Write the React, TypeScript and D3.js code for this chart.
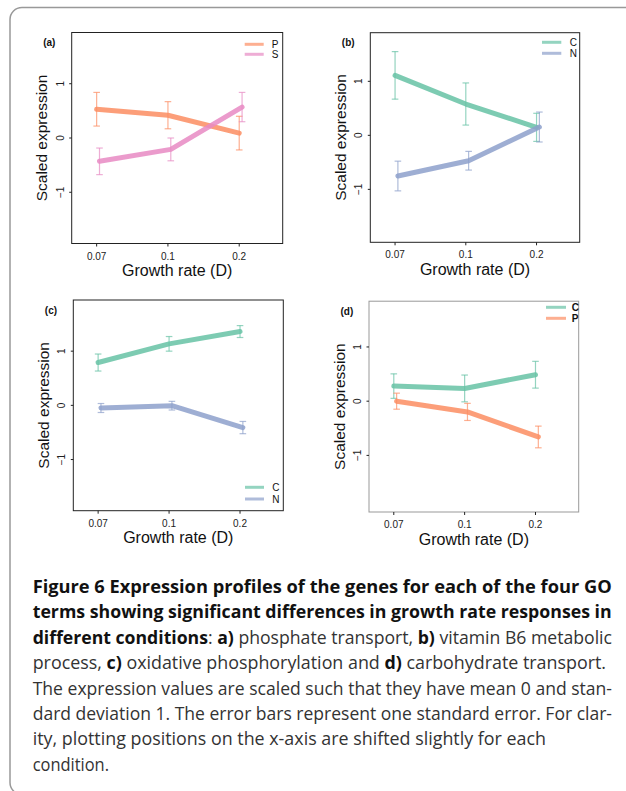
import React from "react";
import * as d3 from "d3";

// ---------- data ----------
const xLabels = ["0.07", "0.1", "0.2"];
const xIndex = [1, 2, 3];
const yTicks = [-1, 0, 1];
const panelLabels = ["(a)", "(b)", "(c)", "(d)"];

// panel (a): P and S
const aP = [0.53, 0.42, 0.09];
const aPse = [0.31, 0.25, 0.31];
const aS = [-0.43, -0.21, 0.57];
const aSse = [0.245, 0.21, 0.27];
// panel (b): C and N
const bC = [1.11, 0.58, 0.148];
const bCse = [0.44, 0.39, 0.26];
const bN = [-0.753, -0.47, 0.154];
const bNse = [0.275, 0.173, 0.277];
// panel (c): C and N
const cC = [0.79, 1.135, 1.362];
const cCse = [0.157, 0.135, 0.11];
const cN = [-0.049, -0.006, -0.41];
const cNse = [0.083, 0.08, 0.113];
// panel (d): C and P
const dC = [0.278, 0.235, 0.488];
const dCse = [0.226, 0.247, 0.247];
const dP = [0.0, -0.198, -0.66];
const dPse = [0.148, 0.158, 0.2];

const colors: Record<string, string> = {
  C: "#66C2A5",
  N: "#8DA0CB",
  P: "#FC8D62",
  S: "#E78AC3",
};

type Series = { name: string; values: number[]; se: number[] };

const panels = [
  {
    label: panelLabels[0],
    box: { l: 71.7, r: 282.7, t: 32.5, b: 243.5 },
    yDomain: [-1.944, 1.944],
    series: [
      { name: "P", values: aP, se: aPse },
      { name: "S", values: aS, se: aSse },
    ] as Series[],
    legend: { x1: -38, x2: -19, tx: -11, ys: [11.8, 21.8], fromTop: true, bold: false },
    boxColor: "#222",
  },
  {
    label: panelLabels[1],
    box: { l: 370.3, r: 579.7, t: 32.7, b: 242.3 },
    yDomain: [-1.98, 1.9],
    series: [
      { name: "C", values: bC, se: bCse },
      { name: "N", values: bN, se: bNse },
    ] as Series[],
    legend: { x1: -37.7, x2: -18.4, tx: -10, ys: [9.6, 20.6], fromTop: true, bold: false },
    boxColor: "#222",
  },
  {
    label: panelLabels[2],
    box: { l: 73.3, r: 283.3, t: 300, b: 510.7 },
    yDomain: [-1.944, 1.944],
    series: [
      { name: "C", values: cC, se: cCse },
      { name: "N", values: cN, se: cNse },
    ] as Series[],
    legend: { x1: -38.3, x2: -19.3, tx: -11, ys: [-23.4, -11.7], fromTop: false, bold: false },
    boxColor: "#222",
  },
  {
    label: panelLabels[3],
    box: { l: 369, r: 578.7, t: 301.2, b: 512 },
    yDomain: [-2.044, 1.844],
    series: [
      { name: "C", values: dC, se: dCse },
      { name: "P", values: dP, se: dPse },
    ] as Series[],
    legend: { x1: -32.7, x2: -12.7, tx: -7, ys: [6.1, 17.1], fromTop: true, bold: true },
    boxColor: "#999",
  },
];

const seriesOffset = [0, 0.04];

const captionLines: { text: string; bold: boolean }[][] = [
  [{ text: "Figure 6 Expression profiles of the genes for each of the four GO", bold: true }],
  [{ text: "terms showing significant differences in growth rate responses in", bold: true }],
  [
    { text: "different conditions", bold: true },
    { text: ": ", bold: false },
    { text: "a)", bold: true },
    { text: " phosphate transport, ", bold: false },
    { text: "b)", bold: true },
    { text: " vitamin B6 metabolic", bold: false },
  ],
  [
    { text: "process, ", bold: false },
    { text: "c)", bold: true },
    { text: " oxidative phosphorylation and ", bold: false },
    { text: "d)", bold: true },
    { text: " carbohydrate transport.", bold: false },
  ],
  [{ text: "The expression values are scaled such that they have mean 0 and stan-", bold: false }],
  [{ text: "dard deviation 1. The error bars represent one standard error. For clar-", bold: false }],
  [{ text: "ity, plotting positions on the x-axis are shifted slightly for each", bold: false }],
  [{ text: "condition.", bold: false }],
];
const captionEnds = [611.7, 611.7, 612, 606, 612, 612, 546, 109];

const FONT = "'Liberation Sans', Arial, Helvetica, sans-serif";

function Panel({ p }: { p: (typeof panels)[number] }) {
  const { box } = p;
  const x = d3.scaleLinear().domain([0.65, 3.61]).range([box.l, box.r]);
  const y = d3.scaleLinear().domain(p.yDomain).range([box.b, box.t]);
  const line = d3
    .line<[number, number]>()
    .x((d) => x(d[0]))
    .y((d) => y(d[1]));
  const cx = (box.l + box.r) / 2;
  const cy = (box.t + box.b) / 2;
  return (
    <g>
      {/* error bars */}
      {p.series.map((s, si) =>
        s.values.map((v, i) => {
          const xx = x(xIndex[i] + seriesOffset[si]);
          const y1 = y(v + s.se[i]);
          const y2 = y(v - s.se[i]);
          return (
            <g key={`e${si}-${i}`} stroke={colors[s.name]} strokeOpacity={0.7} strokeWidth={1.2}>
              <line x1={xx} x2={xx} y1={y1} y2={y2} />
              <line x1={xx - 3.3} x2={xx + 3.3} y1={y1} y2={y1} />
              <line x1={xx - 3.3} x2={xx + 3.3} y1={y2} y2={y2} />
            </g>
          );
        })
      )}
      {/* lines */}
      {p.series.map((s, si) => (
        <path
          key={`l${si}`}
          d={line(s.values.map((v, i) => [xIndex[i] + seriesOffset[si], v]))!}
          fill="none"
          stroke={colors[s.name]}
          strokeOpacity={0.85}
          strokeWidth={5}
          strokeLinecap="round"
          strokeLinejoin="round"
        />
      ))}
      {/* box */}
      <rect
        x={box.l}
        y={box.t}
        width={box.r - box.l}
        height={box.b - box.t}
        fill="none"
        stroke={p.boxColor}
        strokeWidth={1}
      />
      {/* x ticks */}
      {xIndex.map((xi, i) => (
        <g key={`xt${i}`}>
          <line x1={x(xi)} x2={x(xi)} y1={box.b} y2={box.b + 3} stroke="#222" strokeWidth={1} />
          <text
            x={x(xi)}
            y={box.b + 16}
            textAnchor="middle"
            fontSize={10}
            fontFamily={FONT}
            fill="#222"
          >
            {xLabels[i]}
          </text>
        </g>
      ))}
      {/* y ticks */}
      {yTicks.map((t) => (
        <g key={`yt${t}`}>
          <line x1={box.l} x2={box.l - 2.5} y1={y(t)} y2={y(t)} stroke="#222" strokeWidth={1} />
          <text
            transform={`translate(${box.l - 8},${y(t)}) rotate(-90)`}
            textAnchor="middle"
            fontSize={10}
            fontFamily={FONT}
            fill="#222"
          >
            {t === -1 ? "\u22121" : String(t)}
          </text>
        </g>
      ))}
      {/* axis titles */}
      <text
        x={cx}
        y={box.b + 32.5}
        textAnchor="middle"
        fontSize={16}
        fontFamily={FONT}
        fill="#111"
      >
        Growth rate (D)
      </text>
      <text
        transform={`translate(${box.l - 24.5},${cy}) rotate(-90)`}
        textAnchor="middle"
        fontSize={15.5}
        fontFamily={FONT}
        fill="#111"
      >
        Scaled expression
      </text>
      {/* panel label */}
      <text
        x={box.l - 28.5}
        y={box.t + 13.5}
        fontSize={10}
        fontWeight="bold"
        fontFamily={FONT}
        fill="#111"
      >
        {p.label}
      </text>
      {/* legend */}
      {p.series.map((s, si) => {
        const ly = p.legend.fromTop ? box.t + p.legend.ys[si] : box.b + p.legend.ys[si];
        return (
          <g key={`lg${si}`}>
            <line
              x1={box.r + p.legend.x1}
              x2={box.r + p.legend.x2}
              y1={ly}
              y2={ly}
              stroke={colors[s.name]}
              strokeOpacity={0.7}
              strokeWidth={3}
            />
            <text
              x={box.r + p.legend.tx}
              y={ly + 3.6}
              fontSize={10}
              fontWeight={p.legend.bold ? "bold" : "normal"}
              fontFamily={FONT}
              fill="#111"
            >
              {s.name}
            </text>
          </g>
        );
      })}
    </g>
  );
}

export default function App() {
  const captionX = 32.7;
  const baseline0 = 593;
  const lineGap = 25.4;
  return (
    <svg
      width={626}
      height={791}
      style={{ position: "absolute", left: 0, top: 0, background: "#fff" }}
    >
      <rect x={0} y={0} width={626} height={791} fill="#fff" />
      <rect
        x={10}
        y={7.5}
        width={660}
        height={787}
        rx={12}
        ry={12}
        fill="none"
        stroke="#999"
        strokeWidth={1.5}
      />
      {panels.map((p, i) => (
        <Panel key={i} p={p} />
      ))}
      {captionLines.map((segs, li) => (
        <text
          key={li}
          x={captionX}
          y={baseline0 + li * lineGap}
          fontSize={17.5}
          fontFamily="'Open Sans', 'Noto Sans', sans-serif"
          fill="#222"
          textLength={captionEnds[li] - captionX}
          lengthAdjust="spacingAndGlyphs"
        >
          {segs.map((s, si) => (
            <tspan key={si} fontWeight={s.bold ? "bold" : "normal"} fill={s.bold ? "#111" : "#333"}>
              {s.text}
            </tspan>
          ))}
        </text>
      ))}
    </svg>
  );
}
